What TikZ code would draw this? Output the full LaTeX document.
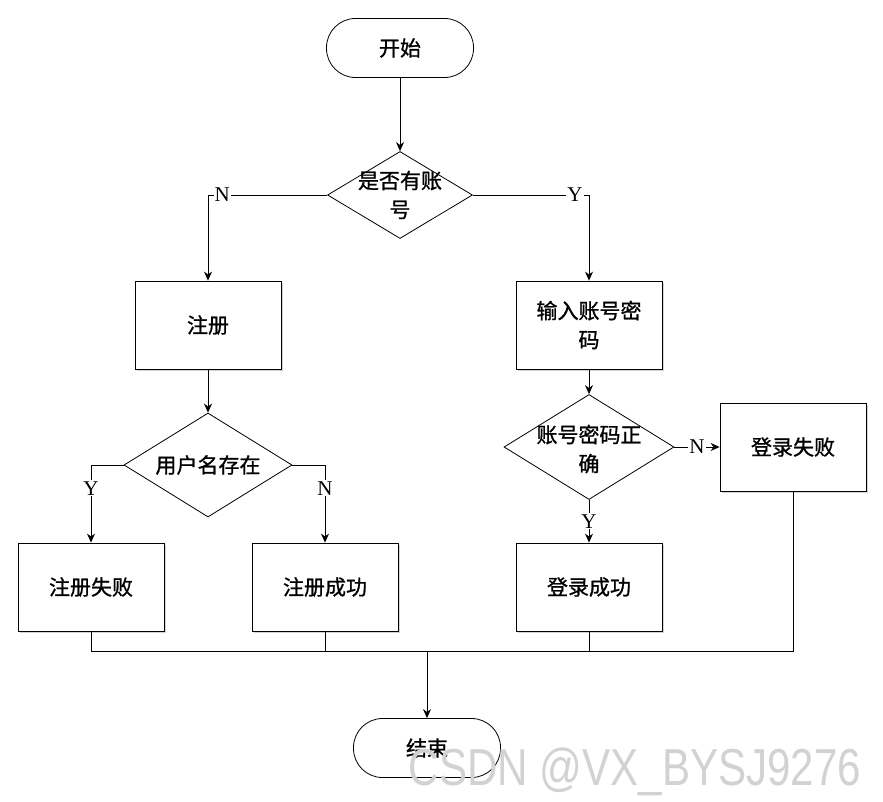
\documentclass[tikz,border=0pt]{standalone}
\usepackage{fontspec}
\setmainfont{Liberation Serif}
\newfontfamily\cjk{Noto Sans CJK SC}[FakeBold=1]
\newfontfamily\wmfont{Liberation Sans}
\usetikzlibrary{shapes.geometric,arrows.meta,shadows}

\tikzset{
  cn/.style={font=\cjk\fontsize{21}{29}\selectfont},
  term/.style={draw, cn, rectangle, rounded corners=29pt, minimum width=147pt, minimum height=59pt},
  procbox/.style={draw, cn, rectangle, fill=white, align=center, minimum width=146pt, minimum height=88pt,
    drop shadow={shadow xshift=2pt, shadow yshift=-2pt, fill=gray, opacity=.35}},
  decide/.style={draw, diamond, inner sep=0pt, fill=white},
  dtext/.style={cn, align=center},
  yn/.style={fill=white, inner sep=1pt, font=\fontsize{21}{21}\selectfont},
  arr/.style={-{Stealth[length=9pt,width=8pt]}},
}

\begin{document}
\begin{tikzpicture}[x=1pt, y=-1pt, line width=0.8pt]
        \path[use as bounding box] (0,0) rectangle (883,802);

        \node[term] (start) at (400, 48) {开始};
        \node[decide, minimum width=145pt, minimum height=87pt,
              label={[dtext]center:{是否有账\\号}}] (hasacc) at (400, 195) {};
        \node[procbox] (reg) at (208, 325) {注册};
        \node[procbox] (input) at (589, 325) {输入账号密\\码};
        \node[decide, minimum width=168pt, minimum height=104pt,
              label={[dtext]center:{用户名存在}}] (exists) at (208, 465) {};
        \node[decide, minimum width=170pt, minimum height=105pt,
              label={[dtext, yshift=-2pt]center:{账号密码正\\确}}] (check) at (589, 447) {};
        \node[procbox] (regfail) at (91, 587) {注册失败};
        \node[procbox] (regok) at (325, 587) {注册成功};
        \node[procbox] (loginok) at (589, 587) {登录成功};
        \node[procbox] (loginfail) at (793, 447) {登录失败};
        \node[term] (end) at (427, 748) {结束};

        \coordinate (jl) at (91, 651);
        \coordinate (jm) at (427, 651);
        \coordinate (jr) at (793, 651);

        \draw[arr] (start) -- (hasacc);
        \draw[arr] (hasacc.west) -| node[yn, pos=0.44] {N} (reg.north);
        \draw[arr] (hasacc.east) -| node[yn, pos=0.44] {Y} (input.north);
        \draw[arr] (reg) -- (exists);
        \draw[arr] (input) -- (check);
        \draw[arr] (exists.west) -| node[yn, pos=0.65] {Y} (regfail.north);
        \draw[arr] (exists.east) -| node[yn, pos=0.65] {N} (regok.north);
        \draw[arr] (check.east) -- node[yn] {N} (loginfail.west);
        \draw[arr] (check.south) -- node[yn] {Y} (loginok.north);

        % join
        \draw (regfail.south) -- (jl) -- (jr) -- (loginfail.south);
        \draw (regok.south) -- (regok |- jl);
        \draw (loginok.south) -- (loginok |- jl);
        \draw[arr] (jm) -- (end);

        \node[text=gray!35, font=\wmfont\fontsize{52}{52}\selectfont, xscale=0.81, transform shape] (mark) at (635, 772) {CSDN @VX\_BYSJ9276};
\end{tikzpicture}
\end{document}
